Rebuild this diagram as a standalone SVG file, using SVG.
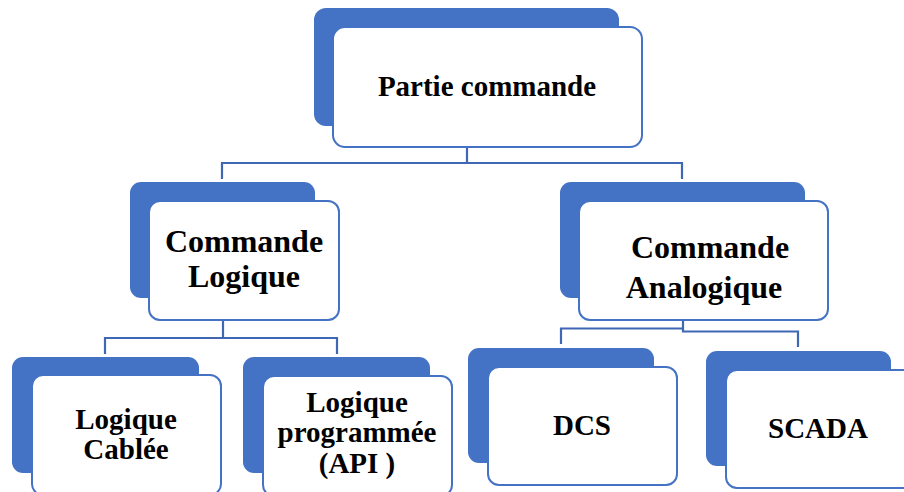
<svg xmlns="http://www.w3.org/2000/svg" width="904" height="492" viewBox="0 0 904 492">
  <style>
    .back { fill: #4472C4; }
    .front { fill: #ffffff; stroke: #4472C4; stroke-width: 2; }
    .wire { fill: none; stroke: #3F67B3; stroke-width: 2.2; }
    text { font-family: "Liberation Serif", "Times New Roman", serif; font-weight: bold; fill: #000000; text-anchor: middle; }
    .lg { font-size: 32px; }
    .md { font-size: 29px; }
  </style>
  <rect width="904" height="492" fill="#ffffff"/>

  <!-- connectors -->
  <g id="connectors">
    <polyline class="wire" points="467,147 467,163"/>
    <polyline class="wire" points="222,179 222,163 682,163 682,179"/>
    <polyline class="wire" points="223,320 223,338"/>
    <polyline class="wire" points="105,354 105,338 337,338 337,354"/>
    <polyline class="wire" points="561,344 561,328.5 683,328.5"/>
    <polyline class="wire" points="683,320 683,331.5 798,331.5 798,347"/>
  </g>

  <!-- root -->
  <g id="partie-commande">
    <rect class="back" x="314" y="8" width="305" height="118" rx="12"/>
    <rect class="front" x="333" y="27" width="309" height="120" rx="12"/>
    <text class="md" x="487" y="96">Partie commande</text>
  </g>

  <g id="commande-logique">
    <rect class="back" x="130" y="182" width="185" height="116" rx="11"/>
    <rect class="front" x="149" y="201" width="190" height="119" rx="11"/>
    <text class="lg" x="244" y="252">Commande</text>
    <text class="lg" x="244" y="287">Logique</text>
  </g>

  <g id="commande-analogique">
    <rect class="back" x="560" y="182" width="245" height="116" rx="11"/>
    <rect class="front" x="579" y="201" width="249" height="119" rx="11"/>
    <text class="lg" x="710" y="258">Commande</text>
    <text class="lg" x="704" y="298">Analogique</text>
  </g>

  <g id="logique-cablee">
    <rect class="back" x="12" y="357" width="187" height="116" rx="11"/>
    <rect class="front" x="32" y="375" width="189" height="120" rx="11"/>
    <text class="md" x="126" y="429">Logique</text>
    <text class="md" x="126" y="459">Cablée</text>
  </g>

  <g id="logique-programmee">
    <rect class="back" x="243" y="357" width="187" height="116" rx="11"/>
    <rect class="front" x="263" y="376" width="189" height="120" rx="11"/>
    <text class="md" x="357" y="412">Logique</text>
    <text class="md" x="357" y="442">programmée</text>
    <text class="md" x="357" y="473">(API )</text>
  </g>

  <g id="dcs">
    <rect class="back" x="468" y="348" width="186" height="115" rx="11"/>
    <rect class="front" x="488" y="367" width="189" height="118" rx="11"/>
    <text class="md" x="582" y="435">DCS</text>
  </g>

  <g id="scada">
    <rect class="back" x="706" y="351" width="185" height="115" rx="11"/>
    <rect class="front" x="726" y="370" width="189" height="118" rx="11"/>
    <text class="md" x="818" y="438">SCADA</text>
  </g>
</svg>
